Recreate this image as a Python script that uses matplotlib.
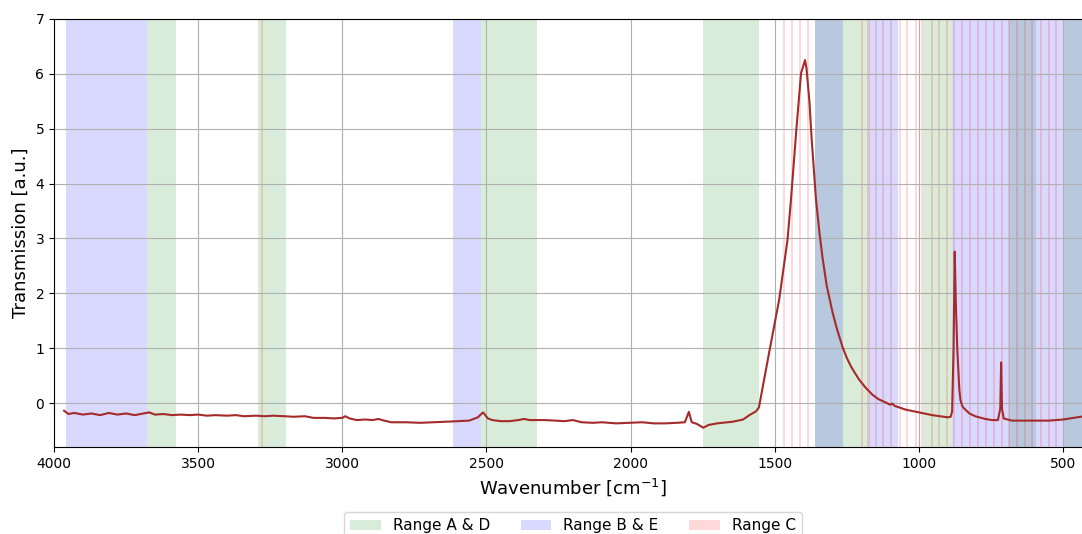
"""IR transmission spectrum with highlighted ranges"""

import matplotlib
matplotlib.use("Agg")
import matplotlib.pyplot as plt

# spectrum (wavenumber, transmission)
wavenumber = [
    3965, 3950, 3930, 3900, 3870, 3840, 3810, 3780, 3750, 3720, 3690, 3670,
    3650, 3620, 3590, 3560, 3530, 3500, 3470, 3440, 3400, 3370, 3340, 3300,
    3270, 3240, 3200, 3170, 3130, 3100, 3060, 3030, 3000, 2990, 2975, 2950,
    2920, 2895, 2875, 2855, 2830, 2780, 2730, 2680, 2640, 2600, 2560, 2530,
    2512, 2495, 2480, 2450, 2420, 2390, 2370, 2350, 2300, 2260, 2230, 2200,
    2170, 2130, 2100, 2050, 2000, 1960, 1920, 1880, 1840, 1812, 1798, 1788,
    1770, 1748, 1730, 1700, 1646, 1610, 1588, 1565, 1555, 1548, 1520, 1485,
    1456, 1444, 1425, 1409, 1395, 1390, 1380, 1372, 1357, 1345, 1335, 1320,
    1300, 1285, 1265, 1250, 1235, 1220, 1208, 1185, 1161, 1140, 1115, 1100,
    1092, 1085, 1046, 1000, 954, 900, 890, 885, 880, 876, 872, 867,
    860, 856, 853, 850, 845, 825, 805, 770, 747, 726, 718, 715,
    712, 706, 678, 620, 550, 500, 440, 400,
]
transmission = [
    -0.14, -0.20, -0.18, -0.21, -0.19, -0.22, -0.18, -0.21, -0.19, -0.22, -0.19, -0.17,
    -0.21, -0.20, -0.22, -0.21, -0.22, -0.21, -0.23, -0.22, -0.23, -0.22, -0.24, -0.23,
    -0.24, -0.23, -0.24, -0.25, -0.24, -0.27, -0.27, -0.28, -0.27, -0.24, -0.28, -0.31,
    -0.30, -0.31, -0.29, -0.32, -0.35, -0.35, -0.36, -0.35, -0.34, -0.33, -0.32, -0.26,
    -0.17, -0.28, -0.31, -0.33, -0.33, -0.31, -0.29, -0.31, -0.31, -0.32, -0.33, -0.31,
    -0.35, -0.36, -0.35, -0.37, -0.36, -0.35, -0.37, -0.37, -0.36, -0.35, -0.16, -0.35,
    -0.38, -0.45, -0.40, -0.37, -0.34, -0.30, -0.22, -0.15, -0.08, 0.12, 0.91, 1.88,
    2.97, 3.70, 5.00, 6.01, 6.25, 6.10, 5.50, 4.80, 3.70, 3.10, 2.67, 2.14,
    1.66, 1.36, 1.02, 0.82, 0.66, 0.53, 0.43, 0.28, 0.15, 0.07, 0.01, -0.03,
    -0.01, -0.05, -0.12, -0.17, -0.22, -0.26, -0.25, -0.15, 1.00, 2.76, 1.80, 0.97,
    0.25, 0.05, 0.00, -0.05, -0.09, -0.19, -0.24, -0.29, -0.31, -0.31, -0.10, 0.74,
    -0.10, -0.28, -0.32, -0.32, -0.32, -0.30, -0.25, -0.24,
]

# highlighted ranges (start, end) in cm^-1
ranges_ad = [(3678, 3578), (3291, 3194), (2518, 2325), (1750, 1555),
             (1360, 1173), (986, 884), (687, 593), (500, 400)]
ranges_be = [(3958, 3678), (2615, 2518), (1360, 1265), (1173, 1072),
             (884, 400)]
lines_c = [3277, 1468, 1440, 1413, 1386, 1199, 1175, 1149, 1124, 1097,
           1065, 1040, 1011, 988, 955, 930, 903, 878, 851, 823, 795, 766,
           740, 713, 687, 659, 632, 607, 578, 549, 524]

fig = plt.figure(figsize=(10.82, 5.34), dpi=100)
ax = fig.add_axes([0.0499, 0.163, 0.9593, 0.8015])

for i, (a, b) in enumerate(ranges_ad):
    ax.axvspan(a, b, color="green", alpha=0.15, lw=0,
               label="Range A & D" if i == 0 else None)
for i, (a, b) in enumerate(ranges_be):
    ax.axvspan(a, b, color="blue", alpha=0.15, lw=0,
               label="Range B & E" if i == 0 else None)
for i, c in enumerate(lines_c):
    ax.axvspan(c + 3.5, c - 3.5, color="red", alpha=0.15, lw=0,
               label="Range C" if i == 0 else None)

ax.plot(wavenumber, transmission, color="brown", lw=1.5)

ax.set_xlim(4000, 400)
ax.set_ylim(-0.8, 7)
ax.set_xticks([4000, 3500, 3000, 2500, 2000, 1500, 1000, 500])
ax.set_yticks(range(0, 8))
ax.tick_params(labelsize=10)
ax.set_xlabel("Wavenumber [cm$^{-1}$]", fontsize=13)
ax.set_ylabel("Transmission [a.u.]", fontsize=13)
ax.grid(True)
ax.legend(loc="upper center", bbox_to_anchor=(0.5, -0.135), ncol=3,
          fontsize=11)

fig.savefig("out.png", dpi=100)
